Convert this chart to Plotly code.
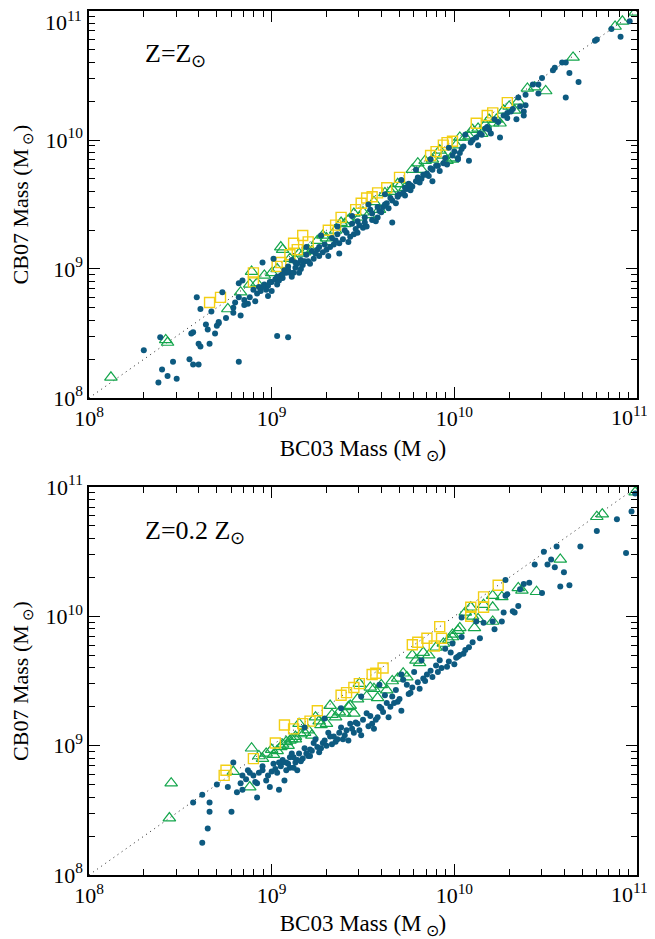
import plotly.graph_objects as go

# ---- values are log10(M / Msun) ----
# Top panel: Z = Zsun
top_dot_bc03 = [8.30,8.39,8.38,8.40,8.43,8.46,8.48,8.55,8.57,8.60,8.60,8.61,8.66,8.56,8.57,8.59,8.61,8.64,8.65,8.67,8.69,8.70,8.71,8.71,8.75,8.82,8.73,8.79,8.79,8.83,8.80,8.82,8.82,8.84,8.85,8.85,8.88,8.92,8.95,8.98,9.01,9.03,9.09,
                8.90,8.93,8.96,8.98,9.00,9.02,9.03,9.05,9.06,9.08,9.09,9.10,9.12,9.13,9.14,9.15,9.17,9.18,9.20,9.23,9.25,9.26,9.28,9.30,9.32,9.34,9.37,9.37,9.39,9.41,9.43,9.45,9.47,9.48,9.50,9.52,9.54,9.55,9.58,9.60,9.61,9.63,9.64,9.66,9.66,9.69,9.70,9.72,9.74,9.76,9.77,9.79,9.81,9.83,9.85,9.88,9.88,9.90,9.94,9.96,10.00,10.02,10.02,10.03,10.05,10.08,10.10,10.12,10.13,10.15,10.17,10.18,10.20,10.22,10.25,10.27,10.29,10.29,10.32,10.34,10.35,10.36,10.38,10.38,10.39,10.39,10.43,10.46,10.46,10.48,10.54,10.55,10.59,10.61,10.61,10.63,10.68,10.77,10.78,10.86,10.91,10.96,
                9.11,9.19,9.27,9.36,9.44,9.53,9.62,9.71,9.79,9.87,9.97,10.06,
                8.87,8.91,8.94,8.97,9.00,9.04,9.07,9.11,9.16,9.21,9.24,9.31,9.35,9.42,9.46,9.51,9.57,9.59,9.68,9.73,9.75,9.82,9.86,9.92,
                8.95,8.99,9.03,9.06,9.09,9.13,9.16,9.19,9.22,9.26,9.29,9.33,9.36,9.40,9.44,9.47,9.51,9.55,9.58,9.62,9.65,9.69,9.73,9.76,9.80,9.84,9.87,9.91,9.95,9.99,10.04,10.09,10.14,10.19,10.24,10.31]
top_dot_cb07 = [8.37,8.47,8.12,8.22,8.17,8.28,8.15,8.30,8.26,8.26,8.42,8.40,8.42,8.50,8.51,8.78,8.69,8.57,8.53,8.67,8.50,8.56,8.58,8.59,8.62,8.28,8.82,8.70,8.66,8.64,8.74,8.78,8.89,8.91,8.76,8.72,8.78,8.81,9.05,8.79,9.08,8.48,8.47,
                8.84,8.86,8.88,8.87,8.90,8.92,8.88,8.95,8.93,8.97,9.02,8.97,8.97,9.01,9.04,8.97,9.03,9.06,9.06,9.08,9.15,9.10,9.13,9.15,9.17,9.19,9.20,9.12,9.23,9.28,9.25,9.27,9.28,9.34,9.32,9.33,9.46,9.38,9.40,9.44,9.48,9.51,9.47,9.53,9.36,9.56,9.58,9.59,9.62,9.61,9.64,9.68,9.67,9.73,9.74,9.77,9.68,9.80,9.82,9.81,9.91,9.86,9.85,9.90,9.95,9.84,10.00,10.02,9.96,10.04,10.09,10.10,10.05,10.16,10.02,10.19,10.17,10.21,10.24,10.16,10.33,10.26,10.22,10.19,10.27,10.35,10.43,10.43,10.36,10.48,10.54,10.56,10.60,10.60,10.33,10.52,10.45,10.77,10.78,10.86,10.80,10.92,
                9.07,9.17,9.26,9.33,9.41,9.50,9.58,9.69,9.77,9.85,9.94,10.04,
                8.73,8.75,8.83,8.84,8.83,8.91,8.99,8.94,9.00,9.04,9.12,9.10,9.22,9.21,9.31,9.36,9.37,9.45,9.51,9.57,9.66,9.70,9.72,9.76,
                8.86,8.90,8.94,8.96,8.99,9.05,9.07,9.11,9.14,9.17,9.19,9.24,9.27,9.30,9.35,9.37,9.40,9.43,9.48,9.50,9.55,9.57,9.63,9.65,9.71,9.73,9.78,9.80,9.86,9.88,9.93,9.98,10.05,10.08,10.14,10.22]

top_tri_bc03 = [8.12,8.42,8.43,8.76,8.83,8.89,8.88,8.96,9.06,9.05,9.22,9.32,9.48,9.53,9.59,9.73,9.77,9.80,9.84,9.96,9.99,9.92,9.98,10.03,10.10,10.15,10.25,10.27,10.33,10.40,10.44,10.50,10.65,10.88,10.92,10.99,
                9.00,9.10,9.15,9.18,9.25,9.28,9.35,9.38,9.42,9.45,9.56,9.62,9.66,9.69,9.88,10.06,10.13,10.19,10.21,10.30,10.35,
                8.92,9.03,9.13,9.20,9.30,9.40,9.50,9.65,9.71,9.82,9.94,10.01,10.08,10.17,10.23]
top_tri_cb07 = [8.16,8.45,8.43,8.69,8.82,8.98,8.88,8.95,9.15,9.17,9.14,9.21,9.40,9.42,9.46,9.63,9.77,9.82,9.84,9.84,9.85,9.92,9.86,10.02,10.08,10.05,10.13,10.23,10.23,10.40,10.41,10.38,10.64,10.88,10.92,10.99,
                8.97,9.08,9.12,9.13,9.22,9.26,9.30,9.36,9.38,9.43,9.52,9.59,9.62,9.66,9.85,10.02,10.09,10.16,10.13,10.26,10.30,
                8.89,9.00,9.07,9.15,9.24,9.35,9.44,9.60,9.66,9.77,9.88,9.96,10.03,10.12,10.16]

top_sq_bc03 = [8.66,8.72,8.90,8.90,9.03,9.05,9.10,9.12,9.14,9.17,9.20,9.31,9.35,9.38,9.46,9.49,9.52,9.55,9.58,9.63,9.70,9.87,9.90,9.94,9.96,9.99,10.12,10.18,10.21,10.29]
top_sq_cb07 = [8.74,8.78,8.97,8.90,9.02,9.05,9.11,9.20,9.15,9.26,9.21,9.30,9.34,9.40,9.46,9.51,9.55,9.56,9.59,9.63,9.71,9.88,9.91,9.96,9.98,9.99,10.13,10.19,10.21,10.29]

# Bottom panel: Z = 0.2 Zsun
bot_dot_bc03 = [8.62,8.65,8.66,8.66,8.62,8.57,8.70,8.78,8.76,8.79,8.81,8.84,8.92,9.04,8.83,8.84,8.90,8.95,9.01,9.06,9.12,8.97,9.03,9.10,8.92,8.87,9.14,9.07,8.99,
                9.08,9.13,9.19,9.17,9.23,9.28,9.34,9.41,9.47,9.52,9.55,9.59,9.66,9.74,9.77,9.80,9.87,9.90,9.96,9.92,9.98,9.99,10.03,9.78,9.72,9.68,9.63,9.50,9.43,9.37,9.32,9.25,9.15,9.10,9.06,9.12,9.21,9.30,9.39,9.45,9.58,9.70,9.62,
                8.86,8.93,8.98,9.02,9.05,9.09,9.16,9.20,9.22,9.27,9.29,9.33,9.36,9.40,9.44,9.48,9.53,9.57,9.61,9.65,9.69,9.75,9.83,9.85,9.93,10.01,10.06,
                10.02,10.04,10.04,10.08,10.14,10.12,10.16,10.21,10.22,10.26,10.27,10.28,10.28,10.29,10.32,10.33,10.35,10.36,10.38,10.41,10.44,10.48,10.49,10.51,10.53,10.55,10.56,10.58,10.60,10.63,10.69,10.78,10.89,10.94,10.97,10.99,
                9.18,9.29,9.38,9.49,9.59,9.71,9.82,9.95,
                8.88,8.91,8.95,9.00,9.04,9.08,9.11,9.14,9.18,9.21,9.24,9.26,9.31,9.35,9.38,9.42,9.46,9.49,9.54,9.56,9.60,9.64,9.67,9.71,9.76,9.81,9.84,9.88,9.91,9.97,10.00,10.05,10.10]
bot_dot_cb07 = [8.25,8.36,8.49,8.56,8.62,8.56,8.70,8.49,8.68,8.87,8.64,8.66,8.60,8.66,8.71,8.77,8.77,8.81,8.86,8.89,8.91,8.73,8.79,8.83,8.71,8.81,8.81,8.73,8.68,
                8.87,8.87,8.94,8.90,9.02,9.02,9.07,9.12,9.17,9.25,9.17,9.30,9.38,9.47,9.45,9.49,9.58,9.62,9.61,9.66,9.72,9.79,9.70,9.57,9.51,9.43,9.33,9.20,9.17,9.10,9.07,8.99,8.94,8.91,8.87,8.83,8.97,9.00,9.05,9.10,9.22,9.36,9.39,
                8.74,8.79,8.77,8.82,8.84,8.86,8.88,8.92,8.96,8.98,9.04,9.01,9.05,9.08,9.13,9.12,9.15,9.20,9.26,9.30,9.34,9.40,9.52,9.55,9.60,9.68,9.74,
                9.69,9.84,9.99,9.76,9.83,9.96,9.95,9.96,9.90,9.96,10.03,10.16,10.28,10.17,10.04,10.03,10.08,10.21,10.25,10.26,10.40,10.18,10.50,10.40,10.44,10.38,10.54,10.23,10.34,10.24,10.54,10.66,10.75,10.49,10.81,10.95,
                9.14,9.21,9.29,9.38,9.47,9.55,9.66,9.75,
                8.79,8.72,8.84,8.80,8.87,8.81,8.94,8.89,8.98,8.92,9.05,8.95,9.10,9.03,9.14,9.04,9.18,9.08,9.23,9.13,9.29,9.22,9.33,9.27,9.41,9.44,9.50,9.53,9.57,9.65,9.63,9.71,9.80]

bot_tri_bc03 = [8.45,8.44,8.89,8.88,8.79,9.13,9.32,9.43,9.48,9.54,9.58,9.63,9.77,9.83,9.79,9.99,10.02,9.74,9.15,9.24,9.30,9.10,9.37,9.45,10.03,9.99,10.06,10.09,10.10,10.11,10.16,10.21,10.21,10.21,10.26,10.35,10.37,10.45,10.58,10.78,10.81,10.99,
                8.93,8.97,9.00,9.03,9.06,9.08,9.11,9.18,9.20,9.22,9.27,9.35,9.40,9.52,9.56,9.66,9.69,9.86,9.90,9.94,
                8.95,9.01,9.05,9.09,9.13,9.16,9.26,9.33,9.42,9.47,9.60,9.72,9.81,9.97,10.13]
bot_tri_cb07 = [8.71,8.44,8.98,8.68,8.80,9.05,9.31,9.31,9.48,9.45,9.37,9.43,9.70,9.72,9.66,9.84,9.89,9.53,9.17,9.22,9.17,9.04,9.26,9.25,9.91,9.86,10.03,10.07,10.00,9.91,10.09,10.16,10.07,9.96,10.15,10.22,10.20,10.19,10.44,10.77,10.79,10.96,
                8.92,8.94,8.97,8.96,9.01,9.03,9.05,9.10,9.12,9.08,9.16,9.22,9.25,9.38,9.44,9.50,9.52,9.70,9.76,9.79,
                8.90,8.93,8.99,9.00,9.07,9.09,9.19,9.24,9.30,9.36,9.47,9.56,9.64,9.82,9.98]

bot_sq_bc03 = [8.75,8.74,8.90,9.02,9.07,9.12,9.17,9.21,9.25,9.38,9.41,9.45,9.48,9.55,9.57,9.61,9.77,9.80,9.85,9.89,9.93,9.92,10.09,10.09,10.16,10.16,10.24]
bot_sq_cb07 = [8.81,8.77,8.90,9.02,9.16,9.13,9.17,9.19,9.27,9.39,9.41,9.45,9.48,9.55,9.56,9.60,9.78,9.80,9.83,9.77,9.83,9.92,10.07,10.00,10.15,10.07,10.24]

one_to_one = [8.0, 11.0]
decade_vals = [8, 9, 10, 11]
decade_text = ["10<sup>8</sup>", "10<sup>9</sup>", "10<sup>10</sup>", "10<sup>11</sup>"]
panel_labels = ["Z=Z<sub>⊙</sub>", "Z=0.2 Z<sub>⊙</sub>"]

BLUE = "#0d5a80"
GREEN = "#14a64c"
YELLOW = "#f3cf14"
FONT = "Liberation Serif"


def lin(v):
    return [10 ** a for a in v]


fig = go.Figure()

panels = [
    ("x", "y", top_dot_bc03, top_dot_cb07, top_tri_bc03, top_tri_cb07, top_sq_bc03, top_sq_cb07),
    ("x2", "y2", bot_dot_bc03, bot_dot_cb07, bot_tri_bc03, bot_tri_cb07, bot_sq_bc03, bot_sq_cb07),
]
for xa, ya, dx, dy, tx, ty, sx, sy in panels:
    fig.add_trace(go.Scatter(x=lin(one_to_one), y=lin(one_to_one), mode="lines", xaxis=xa, yaxis=ya,
                             line=dict(color="#222", width=1, dash="1px,4px"), showlegend=False, hoverinfo="skip"))
    fig.add_trace(go.Scatter(x=lin(tx), y=lin(ty), mode="markers", xaxis=xa, yaxis=ya, showlegend=False,
                             marker=dict(symbol="triangle-up-open", size=11, color=GREEN, line=dict(width=1.2, color=GREEN))))
    fig.add_trace(go.Scatter(x=lin(sx), y=lin(sy), mode="markers", xaxis=xa, yaxis=ya, showlegend=False,
                             marker=dict(symbol="square-open", size=10, color=YELLOW, line=dict(width=1.4, color=YELLOW))))
    fig.add_trace(go.Scatter(x=lin(dx), y=lin(dy), mode="markers", xaxis=xa, yaxis=ya, showlegend=False,
                             marker=dict(symbol="circle", size=6, color=BLUE, line=dict(width=0))))

minor_vals = [m * 10 ** e for e in (8, 9, 10) for m in range(2, 10)]
tickv = [10 ** d for d in decade_vals]
# the 10^11 labels at the plot's outer edges are drawn as annotations (plotly hides edge-overflowing tick labels)
edge_text = list(decade_text[:3]) + [""]

axis_common = dict(type="log", range=[8, 11], showgrid=False, zeroline=False, automargin=False,
                   showline=True, linecolor="black", linewidth=1.5, mirror="ticks",
                   ticks="inside", ticklen=11, tickwidth=1.2, tickcolor="black",
                   tickvals=tickv,
                   tickfont=dict(family=FONT, size=22, color="black"),
                   minor=dict(tickvals=minor_vals, ticks="inside", ticklen=6, tickwidth=1, tickcolor="black"))

xtitle = dict(text="BC03 Mass (M<sub> ⊙</sub>)", font=dict(family=FONT, size=23, color="black"), standoff=10)
ytitle = dict(text="CB07 Mass (M<sub> ⊙</sub>)", font=dict(family=FONT, size=22, color="black"), standoff=11)

lab_font = dict(family=FONT, size=22, color="black")
z_font = dict(family=FONT, size=26, color="black")
annotations = [
    dict(text=panel_labels[0], xref="paper", yref="paper", x=0.098, y=0.949, xanchor="left", yanchor="middle",
         showarrow=False, font=z_font),
    dict(text=panel_labels[1], xref="paper", yref="paper", x=0.098, y=0.397, xanchor="left", yanchor="middle",
         showarrow=False, font=z_font),
    # 10^11 on the x axes (right end)
    dict(text=decade_text[3], xref="paper", yref="y domain", x=1.0, y=0, xanchor="right", yanchor="top",
         xshift=13, yshift=-2, showarrow=False, font=lab_font),
    dict(text=decade_text[3], xref="paper", yref="y2 domain", x=1.0, y=0, xanchor="right", yanchor="top",
         xshift=13, yshift=-2, showarrow=False, font=lab_font),
    # 10^11 on the top y axis
    dict(text=decade_text[3], xref="paper", yref="paper", x=0.0, y=1.0, xanchor="right", yanchor="top",
         xshift=-5, yshift=6, showarrow=False, font=lab_font),
]

fig.update_layout(
    width=647, height=931,
    margin=dict(l=81, r=18, t=3, b=64),
    paper_bgcolor="white", plot_bgcolor="white",
    xaxis=dict(axis_common, domain=[0, 1], anchor="y", title=xtitle, ticktext=edge_text),
    yaxis=dict(axis_common, domain=[0.5521, 1], anchor="x", title=ytitle, ticktext=edge_text),
    xaxis2=dict(axis_common, domain=[0, 1], anchor="y2", title=xtitle, ticktext=edge_text),
    yaxis2=dict(axis_common, domain=[0, 0.4491], anchor="x2", title=ytitle, ticktext=decade_text),
    annotations=annotations,
)

fig.write_html("out.html")
